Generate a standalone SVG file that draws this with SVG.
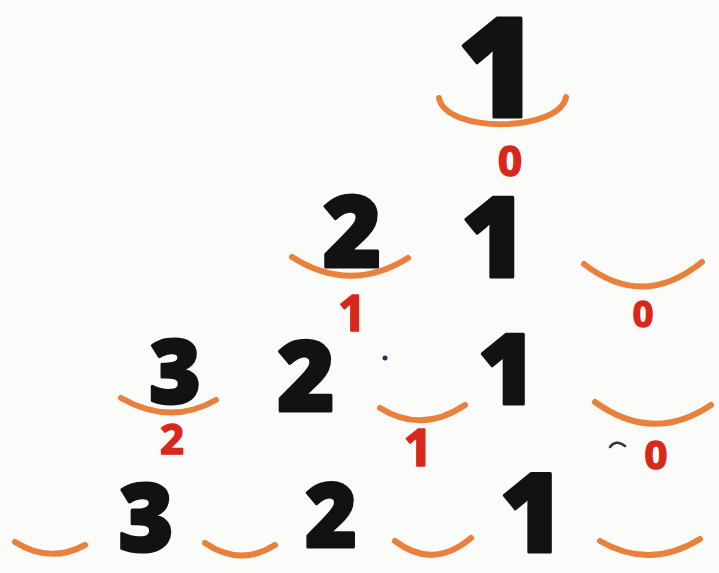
<svg xmlns="http://www.w3.org/2000/svg" width="719" height="573" viewBox="0 0 719 573">
<style>
.blk{font-family:"Open Sans","Liberation Sans",sans-serif;font-weight:800;fill:#121212;stroke:#121212;stroke-width:3;stroke-linejoin:round;text-anchor:middle}
.red{font-family:"Open Sans","Liberation Sans",sans-serif;font-weight:700;fill:#d8281c;stroke:#d8281c;stroke-width:1.5;stroke-linejoin:round;text-anchor:middle}
.arc{fill:none;stroke:#e9803c;stroke-width:6;stroke-linecap:round}
</style>
<rect width="719" height="573" fill="#fbfbf9"/>
<g id="row1">
<text class="blk" x="498" y="117" font-size="138">1</text>
<path class="arc" d="M439,98 C446,134 560,132 566,97"/>
<text class="red" x="510" y="176" font-size="42">0</text>
</g>
<g id="row2">
<text class="blk" x="352" y="267" font-size="100">2</text>
<text class="blk" x="494" y="277" font-size="112">1</text>
<path class="arc" d="M292,257 Q350,294 408,258"/>
<path class="arc" d="M584,264 Q643,310 702,262"/>
<text class="red" x="352" y="331" font-size="50">1</text>
<text class="red" x="643" y="327" font-size="36">0</text>
</g>
<g id="row3">
<text class="blk" x="175" y="403" font-size="88">3</text>
<text class="blk" x="306" y="411" font-size="98">2</text>
<text class="blk" x="507" y="404" font-size="98">1</text>
<path class="arc" d="M121,398 Q170,426 216,400"/>
<path class="arc" d="M380,408 Q422,434 465,405"/>
<path class="arc" d="M595,402 Q653,444 711,405"/>
<text class="red" x="172" y="454" font-size="42">2</text>
<text class="red" x="418" y="466" font-size="52">1</text>
<text class="red" x="656" y="469" font-size="40">0</text>
<circle cx="385" cy="358" r="2.5" fill="#2a2a6a"/>
<path d="M610,447 Q616,439 625,446" fill="none" stroke="#333" stroke-width="2.5" stroke-linecap="round"/>
</g>
<g id="row4">
<text class="blk" x="146" y="551" font-size="94">3</text>
<text class="blk" x="331" y="547" font-size="88">2</text>
<text class="blk" x="532" y="552" font-size="110">1</text>
<path class="arc" d="M15,542 Q50,564 85,545"/>
<path class="arc" d="M205,543 Q240,567 275,545"/>
<path class="arc" d="M395,541 Q433,570 471,538"/>
<path class="arc" d="M600,541 Q650,570 700,539"/>
</g>
</svg>
